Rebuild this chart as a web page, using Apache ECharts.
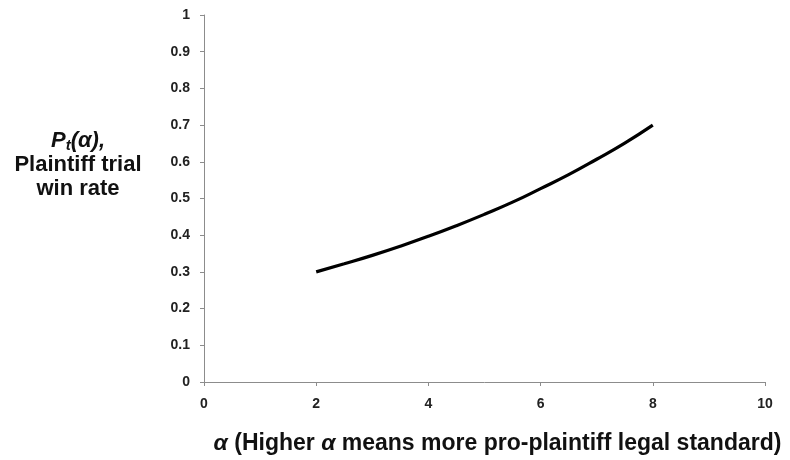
<!DOCTYPE html>
<html>
<head>
<meta charset="utf-8">
<script src="https://cdn.jsdelivr.net/npm/echarts@6/dist/echarts.min.js"></script>
<style>
  html, body { margin: 0; padding: 0; background: #fff; }
  #chart { width: 790px; height: 460px; }
</style>
</head>
<body>
<div id="chart"></div>
<script>
var alphaValues = [2, 2.5, 3, 3.5, 4, 4.5, 5, 5.5, 6, 6.5, 7, 7.5, 8];
var winRate = [0.30, 0.322, 0.345, 0.37, 0.397, 0.426, 0.457, 0.49, 0.527, 0.565, 0.607, 0.651, 0.70];

var chart = echarts.init(document.getElementById('chart'));

var seriesData = alphaValues.map(function (a, i) { return [a, winRate[i]]; });

var option = {
  animation: false,
  grid: { left: 204, right: 25, top: 15, bottom: 78 },
  xAxis: {
    type: 'value',
    min: 0, max: 10, interval: 2,
    splitLine: { show: false },
    axisLine: { lineStyle: { color: '#8c8c8c', width: 1 } },
    axisTick: { show: true, length: 4, lineStyle: { color: '#8c8c8c' } },
    axisLabel: { color: '#222', fontWeight: 'bold', fontSize: 14, fontFamily: 'Liberation Sans', margin: 15 },
    name: '{i|α} (Higher {i|α} means more pro-plaintiff legal standard)',
    nameLocation: 'middle',
    nameGap: 50,
    nameTextStyle: {
      color: '#111', fontWeight: 'bold', fontSize: 23, fontFamily: 'Liberation Sans',
      padding: [0, 0, 0, 26],
      rich: { i: { fontStyle: 'italic', fontWeight: 'bold', fontSize: 23, color: '#111', fontFamily: 'Liberation Sans' } }
    }
  },
  yAxis: {
    type: 'value',
    min: 0, max: 1, interval: 0.1,
    splitLine: { show: false },
    axisLine: { show: true, lineStyle: { color: '#8c8c8c', width: 1 } },
    axisTick: { show: true, length: 4, lineStyle: { color: '#8c8c8c' } },
    axisLabel: { color: '#222', fontWeight: 'bold', fontSize: 14, fontFamily: 'Liberation Sans', margin: 14 }
  },
  graphic: [{
    type: 'text',
    x: 78,
    y: 165,
    style: {
      text: '{pi|P}{sub|t}{pi|(α),}\nPlaintiff trial\nwin rate',
      font: 'bold 22px "Liberation Sans"',
      fill: '#111',
      align: 'center',
      verticalAlign: 'middle',
      lineHeight: 24,
      rich: {
        pi: { font: 'italic bold 22px "Liberation Sans"', fill: '#111', lineHeight: 24 },
        sub: { font: 'italic bold 15px "Liberation Sans"', fill: '#111', verticalAlign: 'bottom', padding: [8, 0, 0, 0], lineHeight: 24 }
      }
    }
  }],
  series: [{
    type: 'line',
    data: seriesData,
    smooth: true,
    showSymbol: false,
    lineStyle: { color: '#000', width: 3.2 }
  }]
};

chart.setOption(option);
</script>
</body>
</html>
